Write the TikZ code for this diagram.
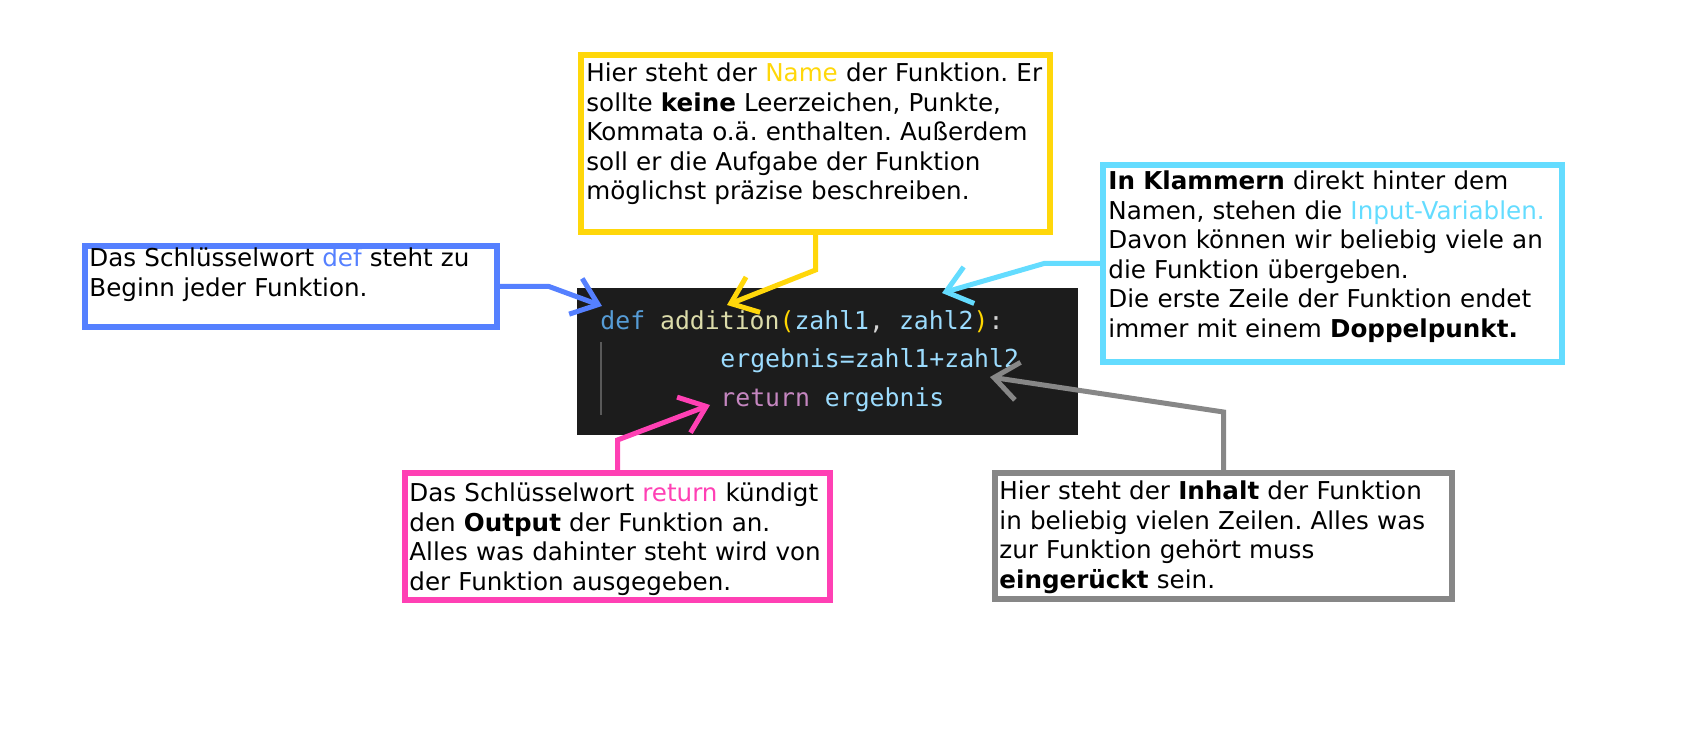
\documentclass[tikz,border=0pt]{standalone}
\usepackage{fontspec}
\setmainfont{DejaVu Sans}
\newfontfamily\codefont{DejaVu Sans Mono}
\usetikzlibrary{arrows.meta}

\definecolor{nameCol}{RGB}{255,215,10}
\definecolor{defCol}{RGB}{85,128,255}
\definecolor{inputCol}{RGB}{100,220,255}
\definecolor{returnCol}{RGB}{255,64,180}
\definecolor{bodyCol}{RGB}{135,135,135}
\definecolor{codeBg}{RGB}{28,28,28}
\definecolor{kwBlue}{RGB}{86,156,214}
\definecolor{fnYellow}{RGB}{220,220,170}
\definecolor{parenCol}{RGB}{255,215,0}
\definecolor{varBlue}{RGB}{156,220,254}
\definecolor{punctCol}{RGB}{212,212,212}
\definecolor{kwPurple}{RGB}{197,134,192}

\frenchspacing

\begin{document}
\begin{tikzpicture}[
        x=0.5pt, y=-0.5pt,
        callbox/.style={
            draw=#1,
            line width=3pt,
            anchor=north west,
            inner sep=0pt,
            outer sep=0pt
        },
        calltext/.style={
            anchor=base west,
            inner sep=0pt,
            text width=240pt,
            align=left,
            font=\fontsize{12.3}{14.75}\selectfont
        },
        codeline/.style={
            anchor=base west,
            inner sep=0pt,
            font=\codefont\fontsize{12.4}{15}\selectfont
        },
        pointer/.style={
            draw=#1,
            line width=2.5pt,
            line join=miter,
            -{Straight Barb[sharp,length=12pt,width=19pt]}
        }
    ]
    \useasboundingbox (0,0) rectangle (1682,732);

    % Code
    \node[fill=codeBg, anchor=north west, minimum width=250.5pt, minimum height=73.5pt,
          inner sep=0pt, outer sep=0pt] (code) at (577,288) {};
    \draw[draw=black!65, line width=0.8pt] (601,342) -- (601,415);
    \node[codeline] (codeDef) at (600,330)
        {\textcolor{kwBlue}{def} \textcolor{fnYellow}{addition}\textcolor{parenCol}{(}\textcolor{varBlue}{zahl1}\textcolor{punctCol}{,} \textcolor{varBlue}{zahl2}\textcolor{parenCol}{)}\textcolor{punctCol}{:}};
    \node[codeline] (codeBody) at (720,368) {\textcolor{varBlue}{ergebnis=zahl1+zahl2}};
    \node[codeline] (codeReturn) at (720,407) {\textcolor{kwPurple}{return} \textcolor{varBlue}{ergebnis}};

    % Boxes
    \node[callbox=nameCol, minimum width=234.5pt, minimum height=88.5pt] (nameBox) at (581,55) {};
    \node[calltext] (nameText) at (586,82)
        {Hier steht der \textcolor{nameCol}{Name} der Funktion. Er\\
         sollte \textbf{keine} Leerzeichen, Punkte,\\
         Kommata o.ä. enthalten. Außerdem\\
         soll er die Aufgabe der Funktion\\
         möglichst präzise beschreiben.};

    \node[callbox=defCol, minimum width=206pt, minimum height=40.5pt] (defBox) at (85,246) {};
    \node[calltext] (defText) at (89,267)
        {Das Schlüsselwort \textcolor{defCol}{def} steht zu\\
         Beginn jeder Funktion.};

    \node[callbox=inputCol, minimum width=229.5pt, minimum height=98.5pt] (inputBox) at (1103,165) {};
    \node[calltext] (inputText) at (1108,190)
        {\textbf{In Klammern} direkt hinter dem\\
         Namen, stehen die \textcolor{inputCol}{Input-Variablen.}\\
         Davon können wir beliebig viele an\\
         die Funktion übergeben.\\
         Die erste Zeile der Funktion endet\\
         immer mit einem \textbf{Doppelpunkt.}};

    \node[callbox=returnCol, minimum width=212.5pt, minimum height=63.5pt] (returnBox) at (405,473) {};
    \node[calltext] (returnText) at (409,502)
        {Das Schlüsselwort \textcolor{returnCol}{return} kündigt\\
         den \textbf{Output} der Funktion an.\\
         Alles was dahinter steht wird von\\
         der Funktion ausgegeben.};

    \node[callbox=bodyCol, minimum width=228.5pt, minimum height=63pt] (bodyBox) at (995,473) {};
    \node[calltext] (bodyText) at (999,500)
        {Hier steht der \textbf{Inhalt} der Funktion\\
         in beliebig vielen Zeilen. Alles was\\
         zur Funktion gehört muss\\
         \textbf{eingerückt} sein.};

    % Arrow tips
    \coordinate (defTip) at (602,306);
    \coordinate (nameTip) at (727,305);
    \coordinate (inputTip) at (942,293);
    \coordinate (returnTip) at (710,405);
    \coordinate (bodyTip) at (990,377);

    % Pointers
    \draw[pointer=defCol] (defBox.east) -- (549,286.5) -- (defTip);
    \draw[pointer=nameCol] (nameBox.south) -- (815.5,270) -- (nameTip);
    \draw[pointer=inputCol] (inputBox.west) -- (1044,263.5) -- (inputTip);
    \draw[pointer=returnCol] (returnBox.north) -- (617.5,440) -- (returnTip);
    \draw[pointer=bodyCol] (bodyBox.north) -- (1223.5,412) -- (bodyTip);
\end{tikzpicture}
\end{document}
